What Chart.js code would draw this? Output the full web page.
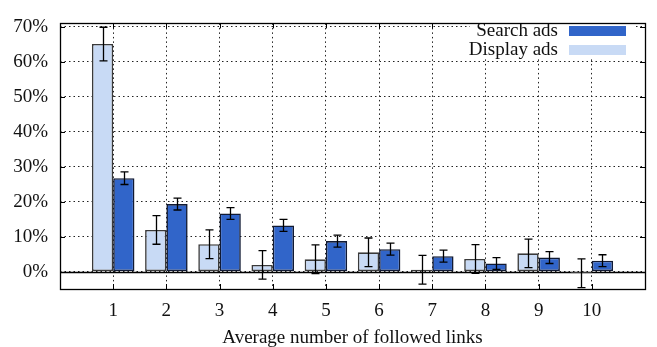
<!DOCTYPE html>
<html>
<head>
<meta charset="utf-8">
<script src="https://cdn.jsdelivr.net/npm/chart.js@4"></script>
<style>
  html, body { margin: 0; padding: 0; background: #fff; }
  #wrap { width: 657px; height: 347px; }
</style>
</head>
<body>
<div id="wrap"><canvas id="grafico" width="657" height="347"></canvas></div>
<script>
// valores (em %)
const categorias = ['1', '2', '3', '4', '5', '6', '7', '8', '9', '10'];
const displayAds = [65.1, 11.9, 7.8, 1.9, 3.5, 5.5, 0.5, 3.6, 5.2, -0.5];
const displayErr = [4.8, 4.1, 4.1, 4.1, 4.1, 4.1, 4.1, 4.1, 4.1, 4.1];
const searchAds = [26.7, 19.3, 16.6, 13.2, 8.7, 6.4, 4.4, 2.3, 4.0, 3.1];
const searchErr = [1.8, 1.7, 1.7, 1.7, 1.7, 1.7, 1.7, 1.7, 1.7, 1.7];
const yTicks = [0, 10, 20, 30, 40, 50, 60, 70];

const corSearch = '#3165c9';
const corDisplay = '#c8daf5';
const fonte = 'Liberation Serif, Times New Roman, serif';

// rótulos vazios nas pontas para as bordas do gráfico
const labels = [''].concat(categorias, ['']);
const pad = arr => [null].concat(arr, [null]);

const erros = [displayErr, searchErr];

// barras de erro, eixo zero, moldura e legenda
const extras = {
  id: 'extras',
  beforeDatasetsDraw(chart) {
    const { ctx, chartArea: a, scales: { y } } = chart;
    ctx.save();
    ctx.strokeStyle = '#000';
    ctx.lineWidth = 1.5;
    const y0 = Math.round(y.getPixelForValue(0)) + 0.5;
    ctx.beginPath();
    ctx.moveTo(a.left, y0);
    ctx.lineTo(a.right, y0);
    ctx.stroke();
    ctx.restore();
  },
  afterDatasetsDraw(chart) {
    const { ctx, chartArea: a, scales: { x, y } } = chart;
    ctx.save();
    ctx.strokeStyle = '#000';
    ctx.lineWidth = 1.3;
    chart.data.datasets.forEach((ds, di) => {
      const meta = chart.getDatasetMeta(di);
      meta.data.forEach((bar, i) => {
        const v = ds.data[i];
        if (v === null) return;
        const e = erros[di][i - 1];
        const px = Math.round(bar.x) + 0.5;
        const yt = y.getPixelForValue(v + e);
        const yb = y.getPixelForValue(v - e);
        ctx.beginPath();
        ctx.moveTo(px, yt); ctx.lineTo(px, yb);
        ctx.moveTo(px - 4, yt); ctx.lineTo(px + 4, yt);
        ctx.moveTo(px - 4, yb); ctx.lineTo(px + 4, yb);
        ctx.stroke();
      });
    });

    // marcas internas dos eixos
    ctx.lineWidth = 1;
    ctx.beginPath();
    x.ticks.forEach((t, i) => {
      const px = Math.round(x.getPixelForTick(i)) + 0.5;
      ctx.moveTo(px, a.bottom); ctx.lineTo(px, a.bottom - 5);
      ctx.moveTo(px, a.top); ctx.lineTo(px, a.top + 5);
    });
    yTicks.forEach(v => {
      const py = Math.round(y.getPixelForValue(v)) + 0.5;
      ctx.moveTo(a.left, py); ctx.lineTo(a.left + 5, py);
      ctx.moveTo(a.right, py); ctx.lineTo(a.right - 5, py);
    });
    ctx.stroke();

    // legenda
    ctx.fillStyle = '#fff';
    ctx.fillRect(470, 20, 163, 38);
    ctx.font = '19px ' + fonte;
    ctx.textAlign = 'right';
    ctx.textBaseline = 'middle';
    ctx.fillStyle = '#111';
    ctx.fillText('Search ads', 558, 31);
    ctx.fillText('Display ads', 558, 50);
    ctx.fillStyle = corSearch;
    ctx.fillRect(569, 26, 57, 10);
    ctx.fillStyle = corDisplay;
    ctx.fillRect(569, 45, 57, 10);

    // moldura
    ctx.strokeStyle = '#000';
    ctx.lineWidth = 1.3;
    ctx.strokeRect(Math.round(a.left) + 0.5, Math.round(a.top) + 0.5,
      Math.round(a.right - a.left), Math.round(a.bottom - a.top));
    ctx.restore();
  }
};

new Chart(document.getElementById('grafico').getContext('2d'), {
  type: 'bar',
  data: {
    labels,
    datasets: [{
      label: 'Display ads',
      data: pad(displayAds),
      backgroundColor: corDisplay,
      borderColor: '#3a3a3a',
      borderWidth: 1.6,
      borderSkipped: false,
      categoryPercentage: 0.8,
      barPercentage: 1.0
    }, {
      label: 'Search ads',
      data: pad(searchAds),
      backgroundColor: corSearch,
      borderColor: '#111a33',
      borderWidth: 1.6,
      borderSkipped: false,
      categoryPercentage: 0.8,
      barPercentage: 1.0
    }]
  },
  options: {
    responsive: false,
    animation: false,
    layout: { padding: { top: 11, right: 12, left: 0, bottom: 0 } },
    plugins: {
      legend: { display: false },
      tooltip: { enabled: false }
    },
    scales: {
      x: {
        offset: false,
        grid: { offset: false, color: '#222', lineWidth: 1, drawTicks: false },
        border: { display: false, dash: [1.5, 3] },
        ticks: {
          color: '#111', font: { family: fonte, size: 19 }, padding: 11,
          maxRotation: 0, autoSkip: false
        },
        title: {
          display: true, text: 'Average number of followed links',
          color: '#111', font: { family: fonte, size: 19 },
          padding: { top: 0, bottom: -2 }
        },
        afterFit(s) { s.height = 58; }
      },
      y: {
        min: -5,
        max: 71,
        afterBuildTicks(s) { s.ticks = yTicks.map(v => ({ value: v })); },
        grid: { color: '#222', lineWidth: 1, drawTicks: false },
        border: { display: false, dash: [1.5, 3] },
        ticks: {
          color: '#111', font: { family: fonte, size: 19 }, padding: 12,
          callback: v => v + '%'
        },
        afterFit(s) { s.width = 60; }
      }
    }
  },
  plugins: [extras]
});
</script>
</body>
</html>
